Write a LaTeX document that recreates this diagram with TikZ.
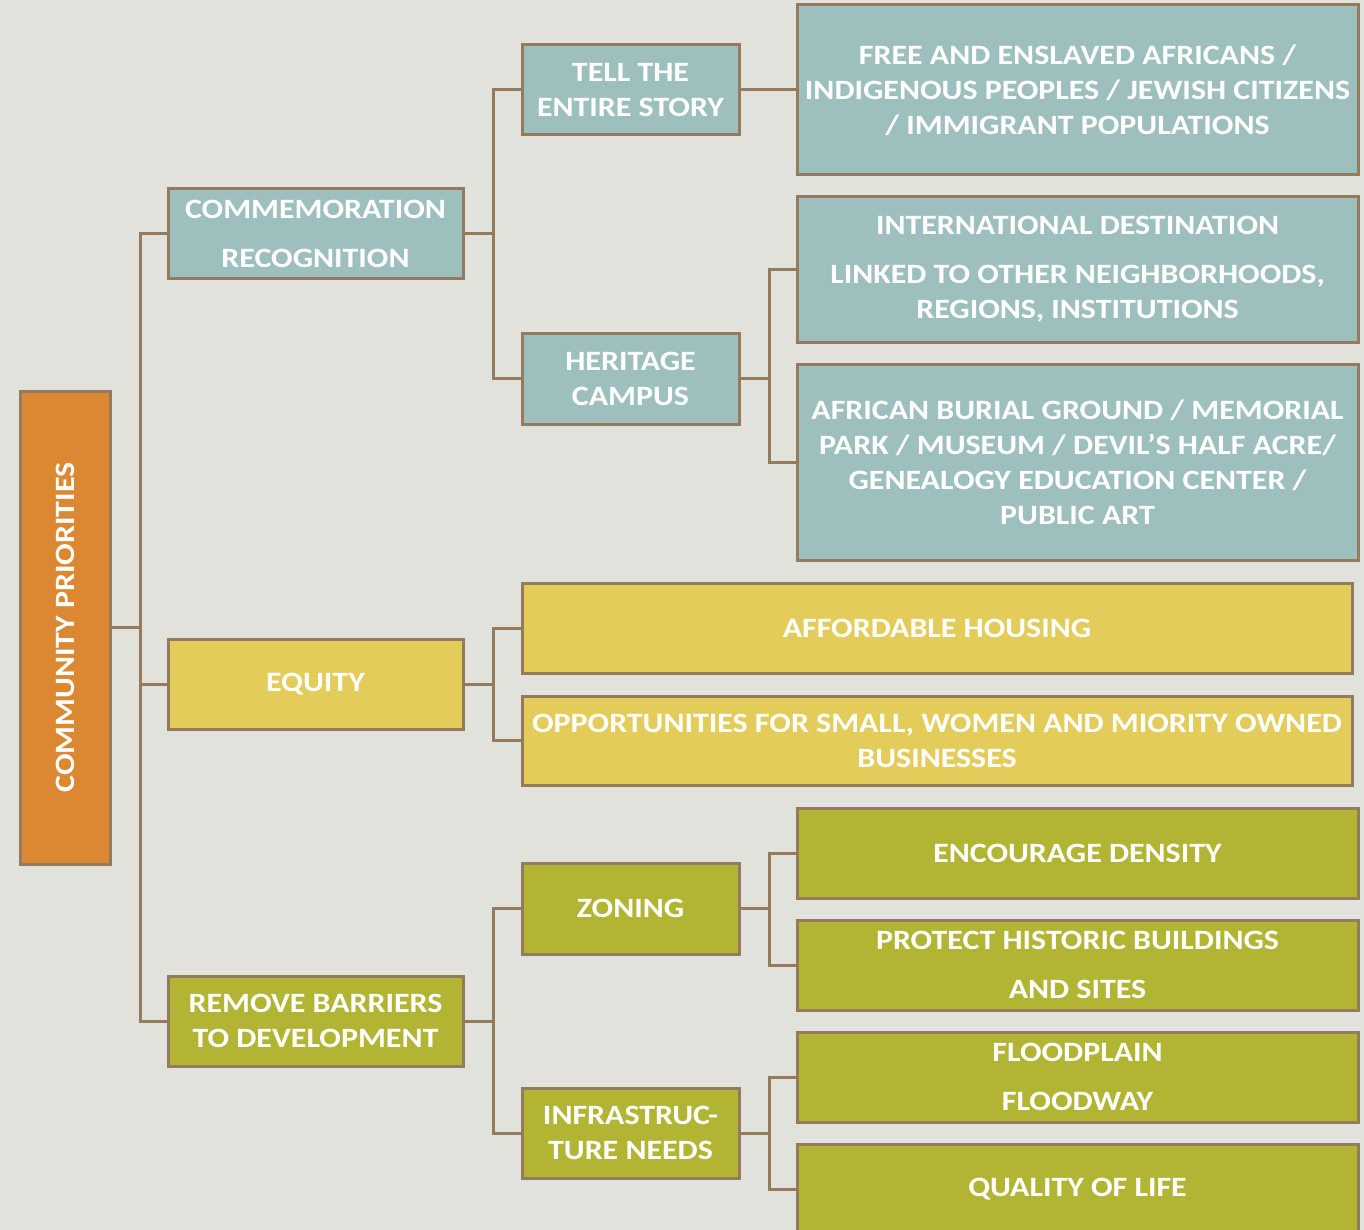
\documentclass[tikz,border=0pt]{standalone}
\usepackage{fontspec}
\setmainfont{Carlito}[FakeStretch=1.14]
\definecolor{box edge}{HTML}{957B5E}
\definecolor{page bg}{HTML}{E1E2DC}
\definecolor{root area}{HTML}{DC8832}
\definecolor{teal area}{HTML}{9DBFBE}
\definecolor{gold area}{HTML}{E3CC59}
\definecolor{olive area}{HTML}{B2B434}
\tikzset{box/.style={draw=box edge, line width=3pt, inner sep=0pt, text=white,
        font=\bfseries\fontsize{28}{35}\selectfont, align=center},
    rootbox/.style={box, fill=root area},
    tealbox/.style={box, fill=teal area},
    goldbox/.style={box, fill=gold area},
    olivebox/.style={box, fill=olive area},
    link/.style={draw=box edge, line width=3pt}}

\begin{document}
\begin{tikzpicture}[x=1pt, y=-1pt]
    \fill[page bg] (0,0) rectangle (1364,1230);
    \useasboundingbox (0,0) rectangle (1364,1230);
    % root
    \node[rootbox, rotate=90, minimum width=473pt, minimum height=90pt] (root) at (65,627.5) {COMMUNITY PRIORITIES};
    % first level
    \node[tealbox, minimum width=295pt, minimum height=90pt] (comm) at (315.5,234) {COMMEMORATION\\[14pt]RECOGNITION};
    \node[goldbox, minimum width=295pt, minimum height=90pt] (equity) at (315.5,684) {EQUITY};
    \node[olivebox, minimum width=295pt, minimum height=90pt] (barriers) at (315.5,1021) {REMOVE BARRIERS\\TO DEVELOPMENT};
    % second level
    \node[tealbox, minimum width=217pt, minimum height=90pt] (tell) at (630.5,90) {TELL THE\\ENTIRE STORY};
    \node[tealbox, minimum width=217pt, minimum height=91pt] (heritage) at (630.5,378.5) {HERITAGE\\CAMPUS};
    \node[goldbox, minimum width=830pt, minimum height=90pt] (housing) at (937,628) {AFFORDABLE HOUSING};
    \node[goldbox, minimum width=830pt, minimum height=89pt] (business) at (937,740.5) {OPPORTUNITIES FOR SMALL, WOMEN AND MIORITY OWNED\\BUSINESSES};
    \node[olivebox, minimum width=217pt, minimum height=91pt] (zoning) at (630.5,908.5) {ZONING};
    \node[olivebox, minimum width=217pt, minimum height=90pt] (infra) at (630.5,1133) {INFRASTRUC-\\TURE NEEDS};
    % third level
    \node[tealbox, minimum width=561pt, minimum height=170pt] (peoples) at (1077.5,90) {FREE AND ENSLAVED AFRICANS /\\INDIGENOUS PEOPLES / JEWISH CITIZENS\\/ IMMIGRANT POPULATIONS};
    \node[tealbox, minimum width=561pt, minimum height=145pt] (intl) at (1077.5,269.5) {INTERNATIONAL DESTINATION\\[14pt]LINKED TO OTHER NEIGHBORHOODS,\\REGIONS, INSTITUTIONS};
    \node[tealbox, minimum width=561pt, minimum height=196pt] (burial) at (1077.5,462) {AFRICAN BURIAL GROUND / MEMORIAL\\PARK / MUSEUM / DEVIL’S HALF ACRE/\\GENEALOGY EDUCATION CENTER /\\PUBLIC ART};
    \node[olivebox, minimum width=561pt, minimum height=90pt] (density) at (1077.5,853) {ENCOURAGE DENSITY};
    \node[olivebox, minimum width=561pt, minimum height=90pt] (historic) at (1077.5,965) {PROTECT HISTORIC BUILDINGS\\[14pt]AND SITES};
    \node[olivebox, minimum width=561pt, minimum height=90pt] (flood) at (1077.5,1077) {FLOODPLAIN\\[14pt]FLOODWAY};
    \node[olivebox, minimum width=561pt, minimum height=90pt] (quality) at (1077.5,1189) {QUALITY OF LIFE};
    % connectors
    \foreach \c in {comm,equity,barriers}
        \draw[link] (root.south) -- ++(29,0) |- (\c.west);
    \foreach \c in {tell,heritage}
        \draw[link] (comm.east) -- ++(29,0) |- (\c.west);
    \foreach \c in {housing,business}
        \draw[link] (equity.east) -- ++(29,0) |- (\c.west);
    \foreach \c in {zoning,infra}
        \draw[link] (barriers.east) -- ++(29,0) |- (\c.west);
    \draw[link] (tell.east) -- (peoples.west);
    \foreach \c in {intl,burial}
        \draw[link] (heritage.east) -- ++(29,0) |- (\c.west);
    \foreach \c in {density,historic}
        \draw[link] (zoning.east) -- ++(29,0) |- (\c.west);
    \foreach \c in {flood,quality}
        \draw[link] (infra.east) -- ++(29,0) |- (\c.west);
\end{tikzpicture}
\end{document}
